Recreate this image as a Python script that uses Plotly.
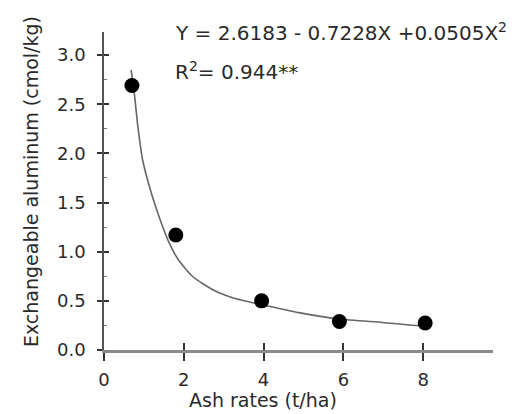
import plotly.graph_objects as go

ash_rate = [0.7, 1.8, 3.95, 5.9, 8.05]
exch_al = [2.69, 1.17, 0.5, 0.29, 0.275]

# Fitted curve
curve_x = [0.68, 0.76, 0.85, 0.97, 1.14, 1.35, 1.60, 1.86, 2.23, 2.74, 3.24,
           3.97, 4.88, 5.9, 6.98, 7.65, 8.1]
curve_y = [2.85, 2.61, 2.27, 1.93, 1.66, 1.39, 1.12, 0.92, 0.745, 0.61, 0.53,
           0.46, 0.38, 0.315, 0.28, 0.255, 0.245]

x_ticks = [0, 2, 4, 6, 8]
y_ticks = [0.0, 0.5, 1.0, 1.5, 2.0, 2.5, 3.0]
y_tick_text = ["0.0", "0.5", "1.0", "1.5", "2.0", "2.5", "3.0"]

equation = "Y = 2.6183 - 0.7228X +0.0505X<sup>2</sup>"
r2_text = "R<sup>2</sup>= 0.944**"
x_title = "Ash rates (t/ha)"
y_title = "Exchangeable aluminum (cmol/kg)"

X_RANGE = [0, 9.75]
Y_RANGE = [0, 3.235]
FONT = "DejaVu Sans"
TXT = "#2a2a2a"

fig = go.Figure()
fig.add_trace(go.Scatter(x=curve_x, y=curve_y, mode="lines",
                         line=dict(color="#666666", width=1.6, shape="spline",
                                   smoothing=0.6),
                         hoverinfo="skip", showlegend=False))
fig.add_trace(go.Scatter(x=ash_rate, y=exch_al, mode="markers",
                         marker=dict(color="black", size=15, symbol="circle"),
                         showlegend=False))
# invisible trace on overlay axes (draws the inner halves of crossing ticks)
fig.add_trace(go.Scatter(x=ash_rate, y=exch_al, xaxis="x2", yaxis="y2",
                         mode="markers", marker=dict(opacity=0),
                         hoverinfo="skip", showlegend=False))

fig.update_layout(
    width=532, height=414,
    margin=dict(l=104, r=39, t=32, b=64),
    paper_bgcolor="white", plot_bgcolor="white",
    font=dict(family=FONT, size=18, color=TXT),
    xaxis=dict(range=X_RANGE, tickvals=x_ticks, ticks="outside", ticklen=8,
               tickwidth=1.5, tickcolor="#333", showline=True, linecolor="#8a8a8a",
               linewidth=3, showgrid=False, zeroline=False,
               tickfont=dict(size=18, color=TXT), ticklabelstandoff=3),
    yaxis=dict(range=Y_RANGE, tickvals=y_ticks, ticktext=y_tick_text,
               ticks="outside", ticklen=5, tickwidth=1.5, tickcolor="#333",
               showline=True, linecolor="#555", linewidth=1.5,
               showgrid=False, zeroline=False,
               tickfont=dict(size=18, color=TXT), ticklabelstandoff=8,
               minor=dict(ticks="inside", ticklen=3, dtick=0.25, tickcolor="#777",
                          tickwidth=1)),
    xaxis2=dict(range=X_RANGE, overlaying="x", anchor="y2", side="bottom",
                tickvals=x_ticks, ticks="inside", ticklen=7, tickwidth=1.5,
                tickcolor="#333", showticklabels=False, showline=False,
                showgrid=False, zeroline=False),
    yaxis2=dict(range=Y_RANGE, overlaying="y", anchor="x2", side="left",
                tickvals=y_ticks, ticks="inside", ticklen=5, tickwidth=1.5,
                tickcolor="#333", showticklabels=False, showline=False,
                showgrid=False, zeroline=False),
    annotations=[
        dict(text=equation, xref="paper", yref="paper", x=0.177, y=1.0,
             xanchor="left", yanchor="middle", showarrow=False,
             font=dict(size=20, color=TXT, family=FONT)),
        dict(text=r2_text, xref="paper", yref="paper", x=0.177, y=0.877,
             xanchor="left", yanchor="middle", showarrow=False,
             font=dict(size=20, color=TXT, family=FONT)),
        dict(text=x_title, xref="paper", yref="paper", x=0.41, y=-0.158,
             xanchor="center", yanchor="middle", showarrow=False,
             font=dict(size=19, color=TXT, family=FONT)),
        dict(text=y_title, xref="paper", yref="paper", x=-0.186, y=0.53,
             xanchor="center", yanchor="middle", showarrow=False, textangle=-90,
             font=dict(size=19, color=TXT, family=FONT)),
    ],
)

fig.write_html("out.html", config={"displayModeBar": False},
               post_script="document.body.style.margin='0';")
